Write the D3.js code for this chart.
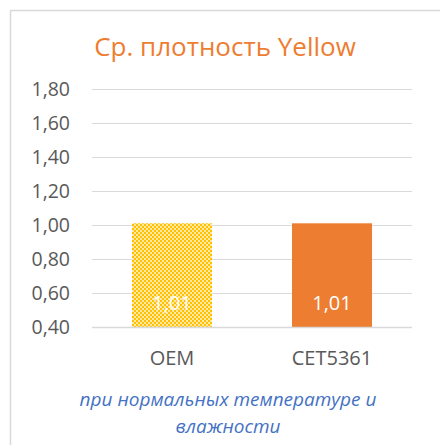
<!DOCTYPE html>
<html><head><meta charset="utf-8">
<script src="https://cdn.jsdelivr.net/npm/d3@7"></script>
<style>body{margin:0;background:#fff}svg{display:block}</style>
</head><body>
<script>
const categories = ["OEM", "CET5361"];
const values = [1.01, 1.01];
const tickValues = [0.4, 0.6, 0.8, 1.0, 1.2, 1.4, 1.6, 1.8];
const title = "Ср. плотность Yellow";
const note = ["при нормальных температуре и", "влажности"];

const W = 440, H = 445;
const svg = d3.select("body").append("svg").attr("width", W).attr("height", H);
const font = "'Open Sans', 'Noto Sans', sans-serif";

const defs = svg.append("defs");
const pat = defs.append("pattern").attr("id", "chk").attr("patternUnits", "userSpaceOnUse")
  .attr("width", 4).attr("height", 4);
pat.append("rect").attr("width", 4).attr("height", 4).attr("fill", "#FFE9A6");
pat.append("rect").attr("width", 2).attr("height", 2).attr("fill", "#FFC000");
pat.append("rect").attr("x", 2).attr("y", 2).attr("width", 2).attr("height", 2).attr("fill", "#FFC000");

// outer frame
svg.append("rect").attr("x", 10.5).attr("y", 10.5).attr("width", 440).attr("height", 460)
  .attr("fill", "none").attr("stroke", "#D9D9D9").attr("stroke-width", 1.5);

const x = d3.scaleBand().domain(categories).range([92, 412]).paddingInner(0.5).paddingOuter(0.25);
const y = d3.scaleLinear().domain([0.4, 1.8]).range([327, 89]);
const fmt = v => d3.format(".2f")(v).replace(".", ",");

// gridlines
svg.append("g").selectAll("line").data(tickValues).join("line")
  .attr("x1", 92).attr("x2", 412)
  .attr("y1", d => Math.round(y(d)) + 0.5).attr("y2", d => Math.round(y(d)) + 0.5)
  .attr("stroke", "#D9D9D9").attr("stroke-width", 1);

// y axis labels
const yAxis = d3.axisLeft(y).tickValues(tickValues).tickFormat(fmt).tickSize(0).tickPadding(0);
const ya = svg.append("g").attr("transform", "translate(70,0)").call(yAxis);
ya.select(".domain").remove();
ya.selectAll("text").attr("font-family", font).attr("font-size", 19.5).attr("fill", "#595959");

// bars
const fills = ["url(#chk)", "#ED7D31"];
svg.append("g").selectAll("rect").data(values).join("rect")
  .attr("x", (d, i) => x(categories[i]))
  .attr("width", x.bandwidth())
  .attr("y", d => y(d))
  .attr("height", d => y(0.4) - y(d))
  .attr("fill", (d, i) => fills[i]);

// axis baseline
svg.append("line").attr("x1", 92).attr("x2", 412).attr("y1", 327.5).attr("y2", 327.5)
  .attr("stroke", "#D9D9D9").attr("stroke-width", 1.5);

// data labels
svg.append("g").selectAll("text").data(values).join("text")
  .attr("x", (d, i) => x(categories[i]) + x.bandwidth() / 2)
  .attr("y", 310)
  .attr("text-anchor", "middle")
  .attr("font-family", font).attr("font-size", 20).attr("fill", "#fff")
  .text(d => fmt(d));

// x axis labels
const xAxis = d3.axisBottom(x).tickSize(0).tickPadding(0);
const xa = svg.append("g").attr("transform", "translate(0,345)").call(xAxis);
xa.select(".domain").remove();
xa.selectAll("text").attr("dy", null).attr("y", 20)
  .attr("font-family", font).attr("font-size", 20).attr("fill", "#595959");

// title
svg.append("text").attr("x", 225).attr("y", 56).attr("text-anchor", "middle")
  .attr("font-family", font).attr("font-size", 26).attr("fill", "#ED7D31").text(title);

// note
svg.append("g").selectAll("text").data(note).join("text")
  .attr("x", 228).attr("y", (d, i) => 406 + i * 27)
  .attr("text-anchor", "middle")
  .attr("font-family", font).attr("font-size", 19).attr("font-style", "italic").attr("fill", "#4472C4")
  .text(d => d);
</script>
</body></html>
